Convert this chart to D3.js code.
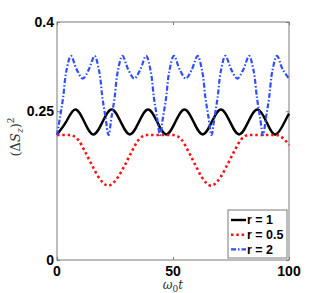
<!DOCTYPE html>
<html>
<head>
<meta charset="utf-8">
<script src="https://cdn.jsdelivr.net/npm/d3@7"></script>
<style>
  body { margin: 0; background: #fff; }
  svg { display: block; }
  .tick-label { font: bold 14px "Liberation Sans", Arial, sans-serif; fill: #000; }
  .legend text { font: bold 12.5px "Liberation Sans", Arial, sans-serif; }
</style>
</head>
<body>
<svg width="319" height="293"></svg>
<script>
// values: [t, (dSz)^2]
var r1Points = [
  [0, 0.211], [3.9, 0.232], [7.85, 0.253], [11.8, 0.232], [15.7, 0.211],
  [19.6, 0.232], [23.55, 0.253], [27.5, 0.232], [31.4, 0.211],
  [35.3, 0.232], [39.25, 0.253], [43.2, 0.232], [47.1, 0.211],
  [51, 0.232], [54.95, 0.253], [58.9, 0.232], [62.8, 0.211],
  [66.7, 0.232], [70.65, 0.253], [74.6, 0.232], [78.5, 0.211],
  [82.4, 0.232], [86.35, 0.253], [90.3, 0.232], [94.2, 0.211],
  [98.1, 0.232], [100, 0.246]
];

var r05Points = [
  [0, 0.21], [5.6, 0.21], [9.2, 0.2017], [12.1, 0.182], [15, 0.16], [17.8, 0.14],
  [22.1, 0.125], [26.4, 0.14], [29.3, 0.16], [32.2, 0.182], [35.1, 0.2017], [38.7, 0.21],
  [50.2, 0.21], [53.8, 0.2017], [56.7, 0.182], [59.6, 0.16], [62.3, 0.14],
  [66.4, 0.125], [70.6, 0.14], [73.4, 0.16], [76.3, 0.182], [79.2, 0.2017], [82.6, 0.21],
  [94.6, 0.21], [98.2, 0.2017], [100, 0.193]
];

var r2Points = [
  [0, 0.21], [1.3, 0.24], [2.6, 0.272], [4, 0.317], [6, 0.343], [8.5, 0.32],
  [11.1, 0.305], [13.7, 0.32], [16.2, 0.343], [18.2, 0.317], [19.6, 0.272], [20.9, 0.24],
  [22.2, 0.21], [23.5, 0.24], [24.8, 0.272], [26.2, 0.317], [28.2, 0.343], [30.7, 0.32],
  [33.3, 0.305], [35.9, 0.32], [38.4, 0.343], [40.4, 0.317], [41.8, 0.272], [43.1, 0.24],
  [44.4, 0.21], [45.7, 0.24], [47, 0.272], [48.4, 0.317], [50.4, 0.343], [52.9, 0.32],
  [55.5, 0.305], [58.1, 0.32], [60.6, 0.343], [62.6, 0.317], [64, 0.272], [65.3, 0.24],
  [66.6, 0.21], [67.9, 0.24], [69.2, 0.272], [70.6, 0.317], [72.6, 0.343], [75.1, 0.32],
  [77.7, 0.305], [80.3, 0.32], [82.8, 0.343], [84.8, 0.317], [86.2, 0.272], [87.5, 0.24],
  [88.8, 0.21], [90.1, 0.24], [91.4, 0.272], [92.8, 0.317], [94.8, 0.343], [97.3, 0.32],
  [100, 0.305]
];

var xTicks = [0, 50, 100];
var yTicks = [0, 0.25, 0.4];
var legendLabels = ["r = 1", "r = 0.5", "r = 2"];

var svg = d3.select("svg"),
    margin = {top: 22, right: 30, bottom: 33, left: 57},
    width = +svg.attr("width") - margin.left - margin.right,
    height = +svg.attr("height") - margin.top - margin.bottom,
    g = svg.append("g").attr("transform", "translate(" + margin.left + "," + margin.top + ")");

var x = d3.scaleLinear().domain([0, 100]).range([0, width]),
    y = d3.scaleLinear().domain([0, 0.4]).range([height, 0]);

function lineWith(curve) {
    return d3.line()
        .curve(curve)
        .x(function(d) { return x(d[0]); })
        .y(function(d) { return y(d[1]); });
}

var series = [
  {id: legendLabels[0], values: r1Points,  color: "#000000", width: 2.4, dash: null, curve: d3.curveNatural},
  {id: legendLabels[1], values: r05Points, color: "#ff1010", width: 2.6, dash: "2.5,2.8", curve: d3.curveMonotoneX},
  {id: legendLabels[2], values: r2Points,  color: "#2f4fff", width: 2.2, dash: "5,2,1.5,2", curve: d3.curveCatmullRom}
];

// box and inward ticks on all four sides
g.append("rect")
    .attr("width", width).attr("height", height)
    .attr("fill", "none").attr("stroke", "#7a7a7a").attr("stroke-width", 1);

function grayTicks(s) {
    s.select(".domain").remove();
    s.selectAll("line").attr("stroke", "#7a7a7a");
}
g.append("g").attr("transform", "translate(0," + height + ")")
    .call(d3.axisBottom(x).tickValues(xTicks).tickSize(-3).tickFormat(""))
    .call(grayTicks);
g.append("g")
    .call(d3.axisTop(x).tickValues(xTicks).tickSize(-3).tickFormat(""))
    .call(grayTicks);
g.append("g")
    .call(d3.axisLeft(y).tickValues(yTicks).tickSize(-3).tickFormat(""))
    .call(grayTicks);
g.append("g").attr("transform", "translate(" + width + ",0)")
    .call(d3.axisRight(y).tickValues(yTicks).tickSize(-3).tickFormat(""))
    .call(grayTicks);

// tick labels
g.selectAll(".xl").data(xTicks).enter().append("text")
    .attr("class", "tick-label")
    .attr("x", function(d) { return x(d); })
    .attr("y", height + 15.5)
    .attr("text-anchor", "middle")
    .text(function(d) { return d; });

g.selectAll(".yl").data(yTicks).enter().append("text")
    .attr("class", "tick-label")
    .attr("x", -3)
    .attr("y", function(d) { return y(d) + 5; })
    .attr("text-anchor", "end")
    .text(function(d) { return d; });

// axis titles
var xt = svg.append("text")
    .attr("x", margin.left + width / 2)
    .attr("y", 289)
    .attr("text-anchor", "middle")
    .style("font", "italic 12px 'DejaVu Serif', serif")
    .style("fill", "#333");
xt.append("tspan").text("ω");
xt.append("tspan").attr("dy", 3).style("font-size", "9px").style("font-style", "normal").text("0");
xt.append("tspan").attr("dy", -3).text("t");

var yt = svg.append("text")
    .attr("transform", "translate(20,137) rotate(-90)")
    .attr("text-anchor", "middle")
    .style("font", "13px 'DejaVu Serif', serif")
    .style("fill", "#333");
yt.append("tspan").text("(Δ");
yt.append("tspan").style("font-style", "italic").text("S");
yt.append("tspan").attr("dy", 3).style("font-size", "9px").style("font-style", "italic").text("z");
yt.append("tspan").attr("dy", -3).text(")");
yt.append("tspan").attr("dy", -6).style("font-size", "9px").text("2");

// curves
g.selectAll(".series").data(series).enter().append("path")
    .attr("class", "series")
    .attr("d", function(d) { return lineWith(d.curve)(d.values); })
    .attr("fill", "none")
    .attr("stroke", function(d) { return d.color; })
    .attr("stroke-width", function(d) { return d.width; })
    .attr("stroke-dasharray", function(d) { return d.dash; });

// legend
var legend = g.append("g").attr("class", "legend")
    .attr("transform", "translate(" + (228 - margin.left) + "," + (210 - margin.top) + ")");
legend.append("rect")
    .attr("width", 59).attr("height", 48)
    .attr("fill", "#fff").attr("stroke", "#7a7a7a").attr("stroke-width", 1);
var item = legend.selectAll(".item").data(series).enter().append("g")
    .attr("transform", function(d, i) { return "translate(0," + (10 + i * 14.7) + ")"; });
item.append("line")
    .attr("x1", 3).attr("x2", 18)
    .attr("stroke", function(d) { return d.color; })
    .attr("stroke-width", function(d) { return d.width; })
    .attr("stroke-dasharray", function(d) { return d.dash; });
item.append("text")
    .attr("x", 19).attr("dy", "0.35em")
    .text(function(d) { return d.id; });
</script>
</body>
</html>
